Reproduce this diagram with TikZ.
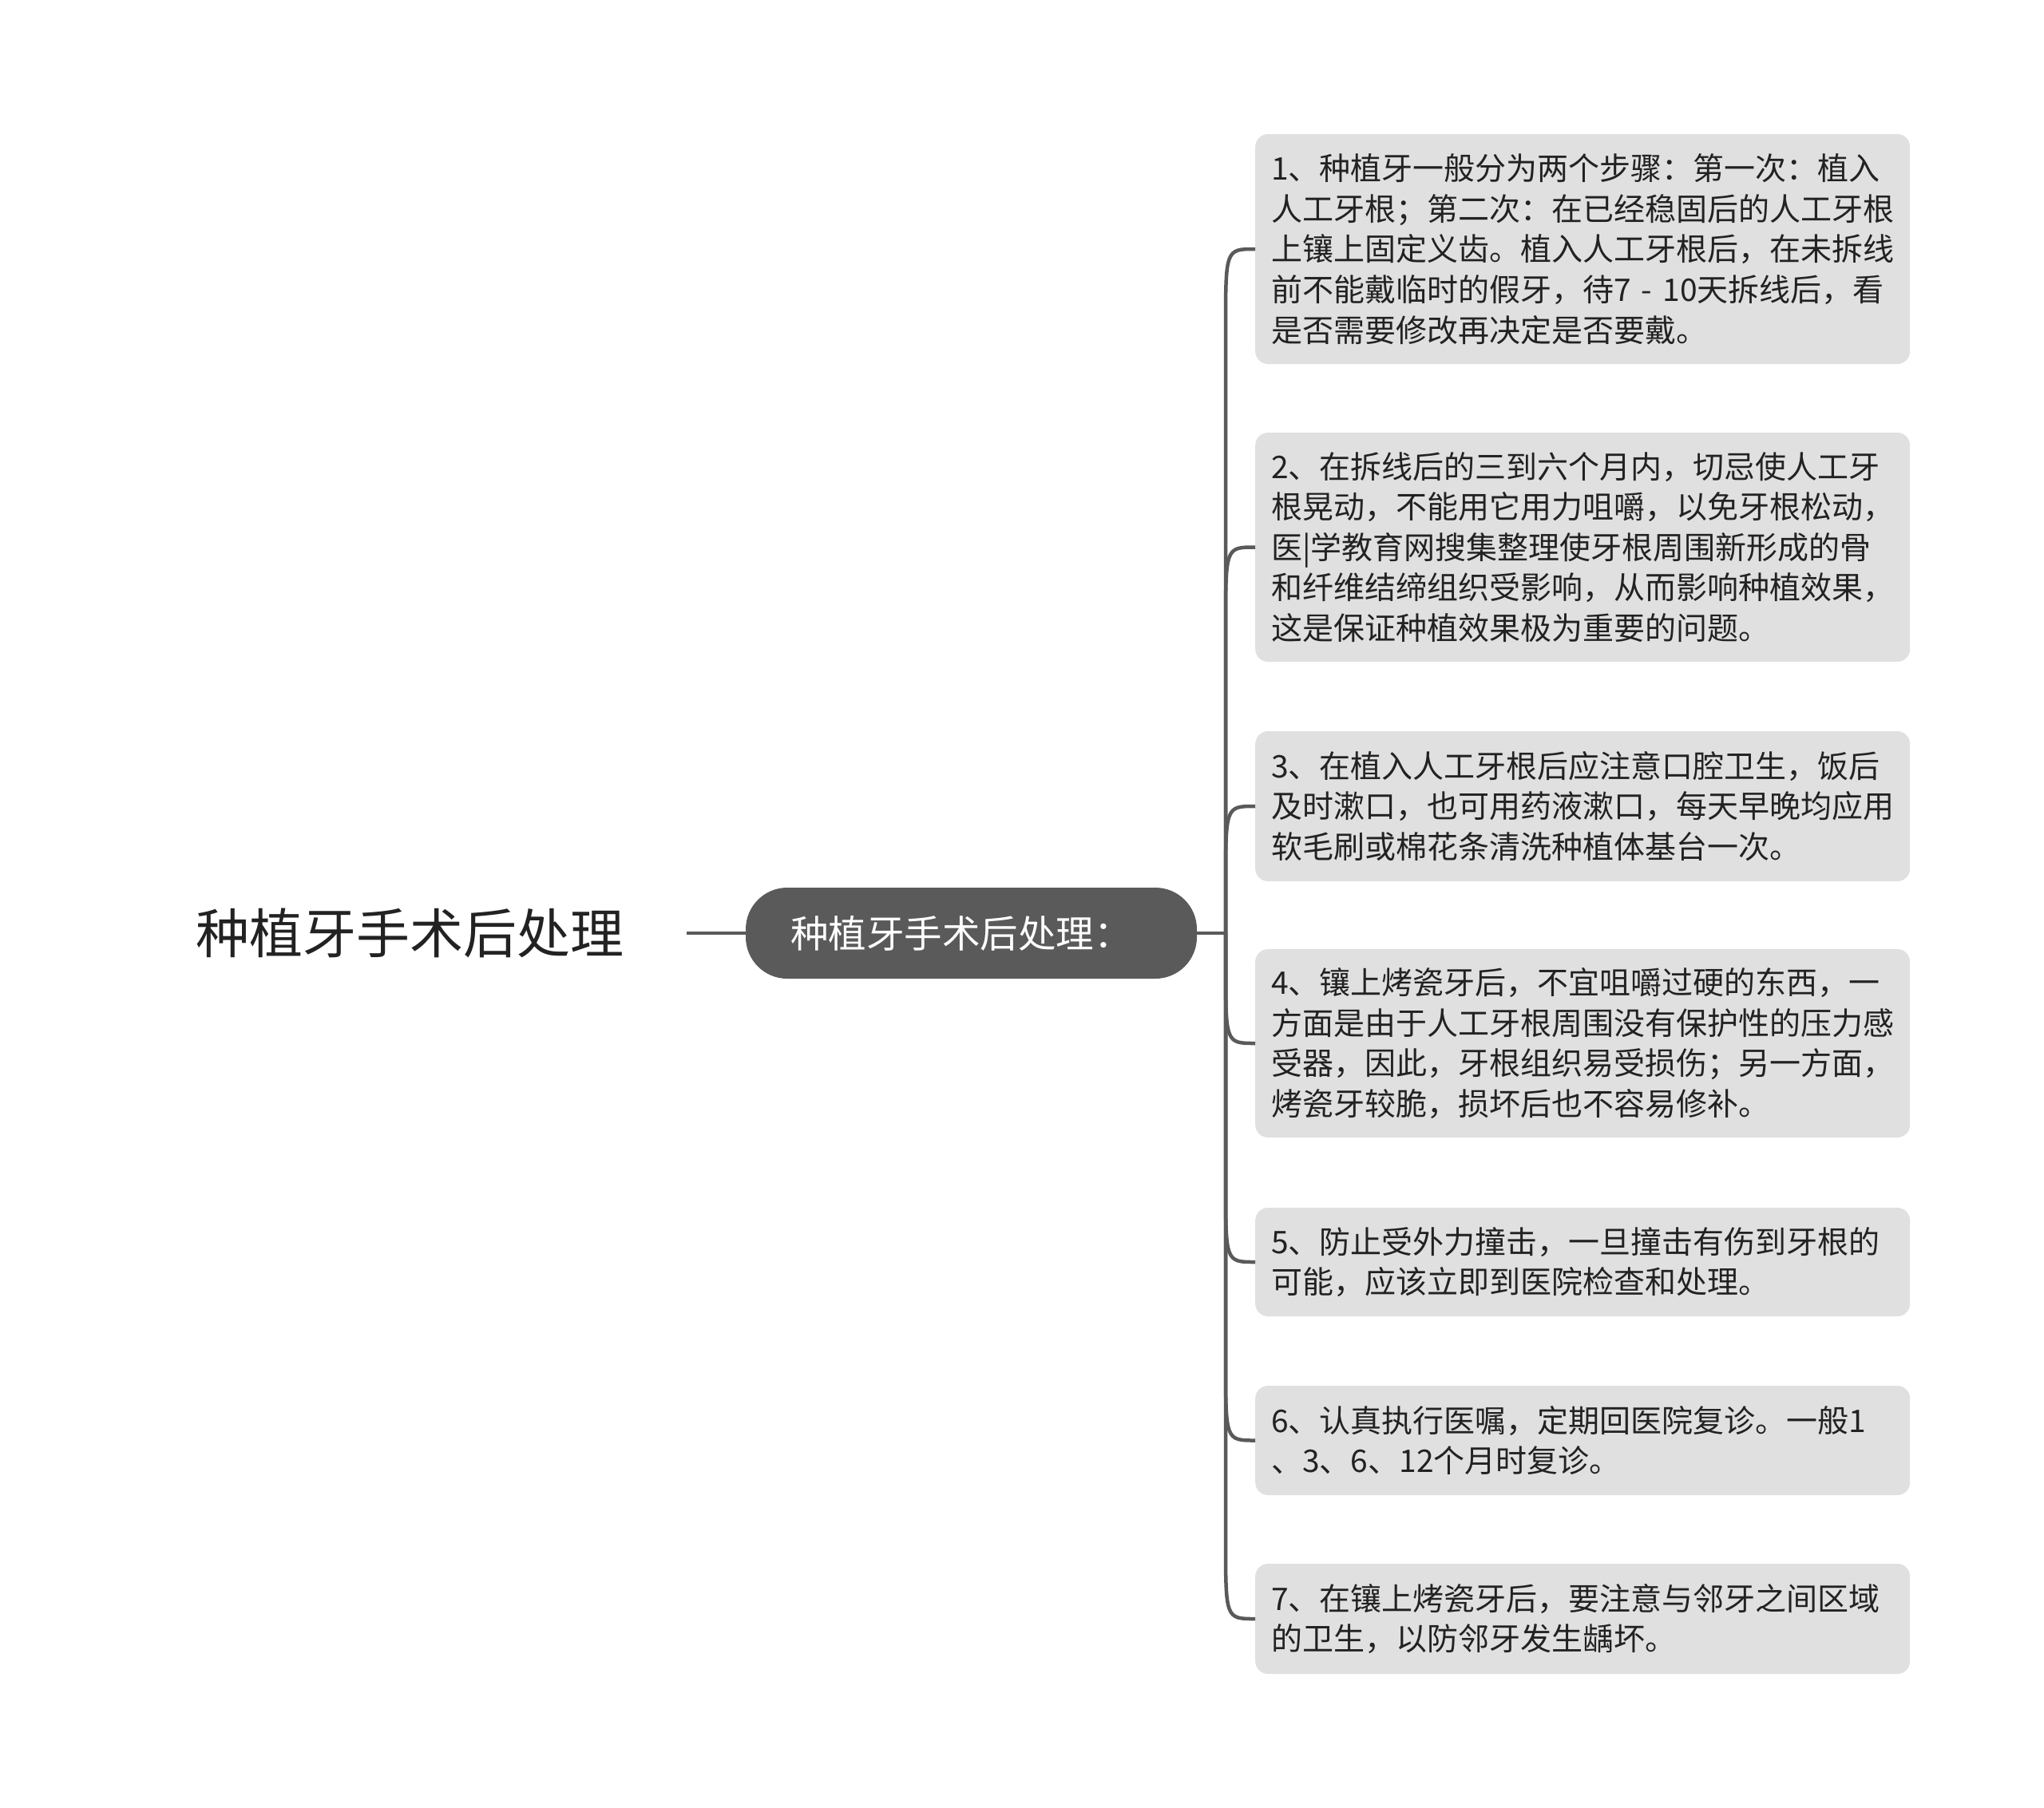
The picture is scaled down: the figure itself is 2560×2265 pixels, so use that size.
\documentclass[tikz,border=0pt]{standalone}
\usepackage{fontspec}
\setmainfont{Noto Sans CJK SC}
\usetikzlibrary{calc}
\definecolor{linegray}{RGB}{90,90,90}
\definecolor{boxgray}{RGB}{224,224,224}
\definecolor{textdark}{RGB}{34,34,34}

\tikzset{
  leaf/.style={fill=boxgray, rounded corners=16pt, anchor=west, text width=780pt,
    inner xsep=20pt, inner ysep=0pt, align=left, text=textdark,
    font=\fontsize{39}{50.6}\selectfont},
  pill/.style={fill=linegray, rounded corners=52pt, minimum width=565pt, minimum height=114pt,
    text width=453pt, inner xsep=56pt, inner ysep=0pt, align=left, text=white,
    font=\fontsize{47.5}{55}\selectfont},
  rootlabel/.style={inner xsep=79pt, text=textdark, font=\fontsize{67}{80}\selectfont},
  branch/.style={draw=linegray, line width=4.5pt},
}

\begin{document}
\begin{tikzpicture}[x=1pt,y=-1pt]
  \fill[white] (0,0) rectangle (2560,2265);
  \useasboundingbox (0,0) rectangle (2560,2265);

  \node[rootlabel] (root) at (513,1169) {种植牙手术后处理};
  \node[pill] (mid) at (1216.5,1169) {种植牙手术后处理：};
  \coordinate (hub) at (1535,1169);

  \node[leaf, minimum height=288pt] (b1) at (1572,312) {1、种植牙一般分为两个步骤：第一次：植入\\人工牙根；第二次：在已经稳固后的人工牙根\\上镶上固定义齿。植入人工牙根后，在未拆线\\前不能戴临时的假牙，待7 - 10天拆线后，看\\是否需要修改再决定是否要戴。};
  \node[leaf, minimum height=287pt] (b2) at (1572,685.5) {2、在拆线后的三到六个月内，切忌使人工牙\\根晃动，不能用它用力咀嚼，以免牙根松动，\\医|学教育网搜集整理使牙根周围新形成的骨\\和纤维结缔组织受影响，从而影响种植效果，\\这是保证种植效果极为重要的问题。};
  \node[leaf, minimum height=188pt] (b3) at (1572,1010) {3、在植入人工牙根后应注意口腔卫生，饭后\\及时漱口，也可用药液漱口，每天早晚均应用\\软毛刷或棉花条清洗种植体基台一次。};
  \node[leaf, minimum height=236pt] (b4) at (1572,1307) {4、镶上烤瓷牙后，不宜咀嚼过硬的东西，一\\方面是由于人工牙根周围没有保护性的压力感\\受器，因此，牙根组织易受损伤；另一方面，\\烤瓷牙较脆，损坏后也不容易修补。};
  \node[leaf, minimum height=136pt] (b5) at (1572,1581) {5、防止受外力撞击，一旦撞击有伤到牙根的\\可能，应该立即到医院检查和处理。};
  \node[leaf, minimum height=137pt] (b6) at (1572,1804.5) {6、认真执行医嘱，定期回医院复诊。一般1\\、3、6、12个月时复诊。};
  \node[leaf, minimum height=138pt] (b7) at (1572,2028) {7、在镶上烤瓷牙后，要注意与邻牙之间区域\\的卫生，以防邻牙发生龋坏。};

  % connectors
  \draw[branch] (root) -- (mid);
  \draw[branch] (mid.east) -- (hub);
  \foreach \b/\s in {b1/-1,b2/-1,b3/-1,b4/1,b5/1,b6/1,b7/1}
    \draw[branch] (hub) -- ($(hub |- \b.west)+(0,\s*100pt)$) .. controls (hub |- \b.west) .. (\b.west);
\end{tikzpicture}
\end{document}
